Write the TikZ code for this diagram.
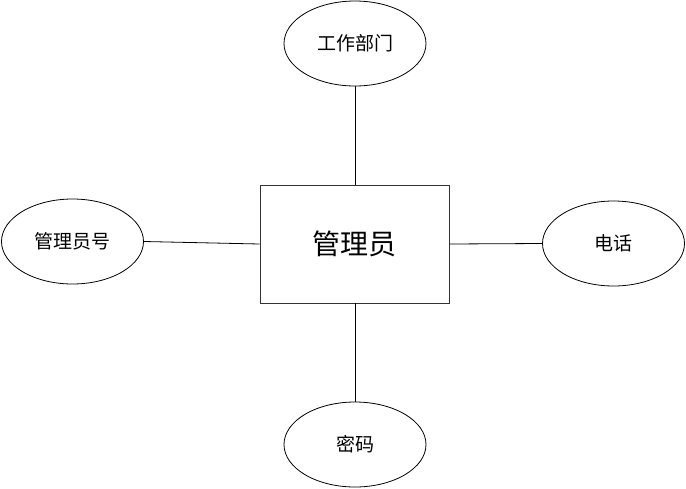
\documentclass[tikz,border=0pt]{standalone}
\usepackage{fontspec}
\newfontfamily\cjk{Noto Sans CJK SC}
\usetikzlibrary{shapes.geometric}
\begin{document}
\begin{tikzpicture}[x=1pt,y=-1pt,
  attr/.style={draw=black,line width=0.8pt,ellipse,minimum width=142pt,minimum height=85pt,inner sep=0pt,font=\cjk\fontsize{19}{19}\selectfont},
  ent/.style={draw=black!80,line width=0.9pt,rectangle,minimum width=189pt,minimum height=118pt,inner sep=0pt,font=\cjk\fontsize{28}{28}\selectfont},
  link/.style={draw=black,line width=0.8pt}]
\useasboundingbox (0,0) rectangle (686,488);
\node[ent] (m) at (354.5,244) {管理员};
\node[attr] (t) at (355,43.5) {工作部门};
\node[attr] (l) at (72.5,241.5) {管理员号};
\node[attr] (r) at (613.5,243.5) {电话};
\node[attr] (b) at (355,444.5) {密码};
\draw[link] (t.south) -- (t.south |- m.north);
\draw[link] (b.north) -- (b.north |- m.south);
\draw[link] (l.east) -- (m.west);
\draw[link] (r.west) -- (m.east);
\end{tikzpicture}
\end{document}
